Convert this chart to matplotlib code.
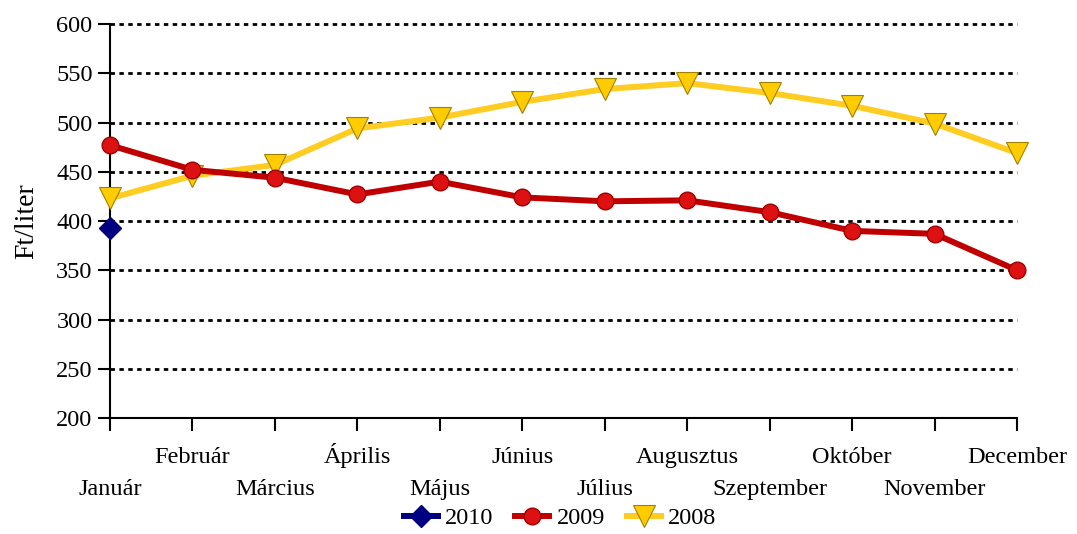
import numpy as np
import matplotlib.pyplot as plt
from matplotlib.transforms import blended_transform_factory

months = ["Január", "Február", "Március", "Április", "Május", "Június",
          "Július", "Augusztus", "Szeptember", "Október", "November", "December"]
y2010 = [393]
y2009 = [477, 452, 444, 427, 440, 424, 420, 421, 409, 390, 387, 350]
y2008 = [423, 446, 457, 494, 505, 521, 534, 540, 530, 517, 499, 469]
yticks = [200, 250, 300, 350, 400, 450, 500, 550, 600]

plt.rcParams['font.family'] = ['Liberation Serif', 'DejaVu Serif']

fig = plt.figure(figsize=(10.77, 5.34), dpi=100)
ax = fig.add_axes([0.1021, 0.2172, 0.8422, 0.7378])

x = np.arange(len(months))

ax.plot(x[:len(y2010)], y2010, color="#000080", lw=4.3, marker="D",
        ms=11, mfc="#000080", mec="#000080", label="2010", zorder=5, clip_on=False)
ax.plot(x, y2009, color="#c00000", lw=4.3, marker="o", ms=12,
        mfc="#dd1111", mec="#a00000", label="2009", zorder=4, clip_on=False)
ax.plot(x, y2008, color="#ffcc22", lw=4.3, marker="v", ms=16,
        mfc="#ffcc00", mec="#a08000", mew=0.8, label="2008", zorder=3, clip_on=False)

ax.set_xlim(0, 11)
ax.set_ylim(200, 600)
ax.set_yticks(yticks)
for v in yticks[1:]:
    ax.axhline(v, color="black", lw=2, ls=(0, (1.6, 1.6)), zorder=1, clip_on=False)

# month labels in two staggered rows
ax.set_xticks(x)
ax.set_xticklabels([])
trans = blended_transform_factory(ax.transData, ax.transAxes)
for i, m in enumerate(months):
    yy = -0.114 if i % 2 == 1 else -0.195
    ax.text(i, yy, m, transform=trans, ha="center", va="baseline", fontsize=17.5)

ax.spines["top"].set_visible(False)
ax.spines["right"].set_visible(False)
ax.spines["left"].set_linewidth(1.5)
ax.spines["bottom"].set_linewidth(1.5)
ax.tick_params(axis="both", direction="out", length=9, width=1.5, labelsize=17.5)
ax.set_ylabel("Ft/liter", fontsize=20, labelpad=12)

fig.legend(loc="lower center", bbox_to_anchor=(0.52, -0.032), ncol=3, frameon=False,
           fontsize=17.5, handlelength=1.4, columnspacing=0.9, handletextpad=0.3)

fig.savefig("out.png", dpi=100)
